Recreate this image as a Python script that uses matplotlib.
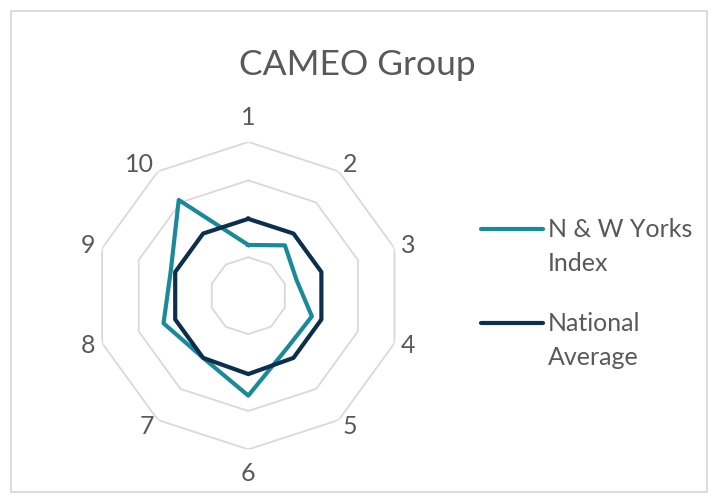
import numpy as np
import matplotlib.pyplot as plt
from matplotlib.lines import Line2D
from matplotlib.patches import Rectangle

plt.rcParams['font.family'] = ['Lato', 'DejaVu Sans']

# data
groups = ['1', '2', '3', '4', '5', '6', '7', '8', '9', '10']
nw_yorks = [66, 81, 66, 87, 85, 130, 100, 116, 106, 154]
national = [100, 100, 100, 100, 100, 102, 100, 100, 100, 100]
rings = [50, 100, 150, 200]

teal = '#1a8a9b'
navy = '#0c2f4d'
grey_txt = '#595959'
grid_col = '#d9d9d9'

W, H = 714, 503
fig = plt.figure(figsize=(W / 100, H / 100), dpi=100)

# outer frame
fig.add_artist(Rectangle((11 / W, 1 - 492 / H), 696 / W, 481 / H,
                         transform=fig.transFigure, fill=False,
                         edgecolor=grid_col, lw=1.3))

cx, cy, R = 248.3, 295.7, 153.7
ax = fig.add_axes([(cx - R) / W, 1 - (cy + R) / H, 2 * R / W, 2 * R / H], polar=True)
ax.set_theta_zero_location('N')
ax.set_theta_direction(-1)
ax.set_ylim(0, 200)
ax.grid(False)
ax.set_xticks([])
ax.set_yticks([])
ax.spines['polar'].set_visible(False)
ax.patch.set_alpha(0)

theta = np.linspace(0, 2 * np.pi, len(groups), endpoint=False)
closed = np.append(theta, theta[0])

for r in rings:
    ax.plot(closed, [r] * len(closed), color=grid_col, lw=1.3, zorder=1)

ax.plot(closed, nw_yorks + nw_yorks[:1], color=teal, lw=3.0,
        solid_joinstyle='round', zorder=3)
ax.plot(closed, national + national[:1], color=navy, lw=3.0,
        solid_joinstyle='round', zorder=4)

# category labels just outside each outer vertex (Excel style placement)
for t, g in zip(theta, groups):
    s, c = np.sin(t), np.cos(t)
    if abs(c) > 0.99:
        ha, dx, dy = 'center', 0, 24.5 * c
    else:
        ha = 'left' if s > 0 else 'right'
        dx, dy = 7 * s, 8 * c
    ax.annotate(g, xy=(t, 200), xytext=(dx, dy), textcoords='offset pixels',
                ha=ha, va='center', fontsize=18, color=grey_txt,
                annotation_clip=False)

fig.text(0.5, 1 - 75 / H, 'CAMEO Group', ha='center', va='baseline',
         fontsize=25.5, color=grey_txt)

# legend, drawn by hand so the line sits on the first text line
for y_line, lines, col in [(229.3, ['N & W Yorks', 'Index'], teal),
                           (323.3, ['National', 'Average'], navy)]:
    fig.add_artist(Line2D([481 / W, 543 / W], [1 - y_line / H] * 2,
                          color=col, lw=3.0, solid_capstyle='round',
                          transform=fig.transFigure))
    for i, s in enumerate(lines):
        fig.text(548 / W, 1 - (y_line + 7.5 + 34 * i) / H, s, ha='left',
                 va='baseline', fontsize=18, color=grey_txt)

fig.savefig('out.png', dpi=100)
